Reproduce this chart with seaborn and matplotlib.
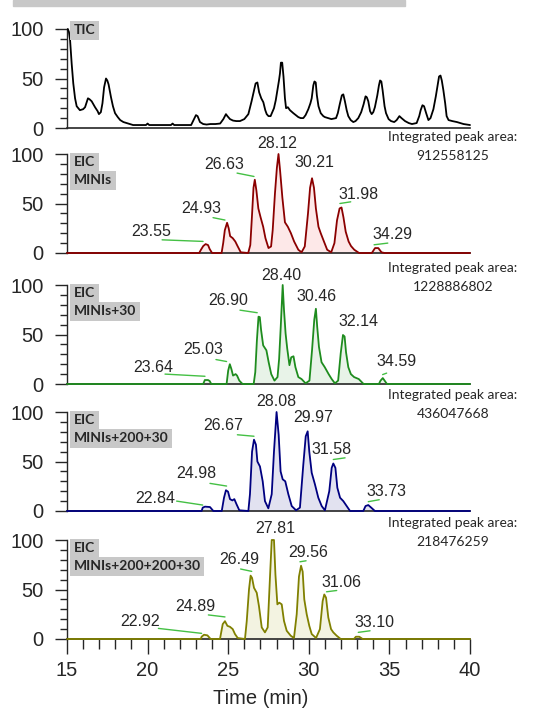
import matplotlib
matplotlib.use("Agg")
import matplotlib.pyplot as plt
from matplotlib.patches import Rectangle
from matplotlib.ticker import MultipleLocator
import numpy as np
import pandas as pd
import seaborn as sns

# ---- data (time in min, relative intensity %) ----
tic_t = [15.05, 15.12, 15.19, 15.29, 15.39, 15.5, 15.6, 15.8, 16.0, 16.12, 16.3, 16.4, 16.53,
         16.74, 16.9, 16.98, 17.1, 17.2, 17.3, 17.42, 17.5, 17.58, 17.73, 17.85, 17.98, 18.15,
         18.3, 18.5, 18.7, 18.9, 19.1, 19.9, 20.0, 20.1, 21.45, 21.55, 21.65, 22.7, 22.85, 23.0,
         23.1, 23.25, 23.45, 23.66, 23.9, 24.2, 24.5, 24.7, 24.86, 24.95, 25.11, 25.3, 25.5,
         25.73, 26.0, 26.25, 26.45, 26.56, 26.7, 26.81, 26.92, 27.05, 27.18, 27.3, 27.39, 27.5,
         27.63, 27.84, 27.95, 28.05, 28.15, 28.21, 28.27, 28.35, 28.43, 28.52, 28.59, 28.7,
         28.83, 29.04, 29.2, 29.35, 29.5, 29.66, 29.8, 29.97, 30.1, 30.18, 30.28, 30.35, 30.43,
         30.5, 30.6, 30.74, 30.9, 31.0, 31.2, 31.4, 31.69, 31.8, 31.92, 32.05, 32.14, 32.24,
         32.35, 32.45, 32.6, 32.76, 32.9, 33.07, 33.25, 33.4, 33.52, 33.6, 33.69, 33.8, 33.9,
         34.0, 34.1, 34.25, 34.35, 34.42, 34.5, 34.58, 34.7, 34.79, 34.95, 35.1, 35.3, 35.45,
         35.62, 35.75, 35.97, 36.2, 36.4, 36.69, 36.85, 36.94, 37.05, 37.15, 37.28, 37.42,
         37.55, 37.73, 37.88, 37.98, 38.08, 38.17, 38.25, 38.35, 38.46, 38.55, 38.67, 38.9,
         39.19, 39.6, 40.0]
tic_i = [100, 97, 89, 65, 45, 30, 22, 18, 19, 21, 30, 29, 27,
         21, 17, 14, 16, 25, 41, 50, 48, 44, 31, 22, 15, 11,
         8, 6, 5, 4, 3, 3, 4.5, 3, 3, 4.5, 3, 3, 8, 13,
         12, 6, 4, 3.5, 4, 4, 4.5, 9, 14, 12, 9, 7.5, 7,
         7, 9, 14, 27, 35, 45, 46, 36, 30, 26, 18, 14, 12,
         12, 20, 28, 38, 48, 55, 66, 66, 52, 30, 20, 21,
         18, 15, 13, 11, 10, 10, 13, 19, 25, 30, 43, 47, 46,
         33, 22, 15, 12, 11, 10, 9, 10, 15, 24, 33, 34, 27,
         18, 12, 8, 6, 7, 10, 16, 24, 32, 31, 27, 17, 14,
         16, 21, 33, 43, 48, 47, 38, 22, 15, 9, 7, 6, 8,
         12, 10, 7, 5, 4, 5, 12, 18, 23, 22, 15, 8,
         10, 19, 32, 42, 52, 53, 48, 38, 25, 12, 8, 7,
         6, 4, 3]

minis_t = [15.0, 23.2, 23.3, 23.45, 23.6, 23.75, 23.85, 24.0, 24.59, 24.69, 24.79, 24.93, 25.03,
           25.12, 25.28, 25.44, 25.58, 25.78, 26.24, 26.37, 26.47, 26.57, 26.65, 26.75, 26.87,
           27.01, 27.17, 27.31, 27.5, 27.66, 27.76, 27.9, 28.02, 28.12, 28.22, 28.36, 28.52,
           28.7, 28.89, 29.09, 29.35, 29.55, 29.75, 29.95, 30.08, 30.2, 30.32, 30.44, 30.6,
           30.74, 30.94, 31.14, 31.39, 31.59, 31.75, 31.91, 32.03, 32.15, 32.29, 32.47, 32.62,
           32.82, 33.12, 33.91, 34.11, 34.31, 34.51, 34.7, 40.0]
minis_i = [0, 0, 3, 7, 9, 8, 4, 0, 0, 10, 23, 30.5, 25,
           17, 15, 11.6, 7, 0.7, 0, 8, 36, 66, 74, 63, 45,
           36, 26.5, 15, 5, 6.6, 23, 60, 86, 100, 83, 56, 31,
           26.5, 20, 11.6, 3.3, 0.7, 6.6, 40, 66, 75.5, 66, 45, 26.5,
           20, 11.6, 3.3, 0.7, 10, 33, 45, 46, 36, 21.5, 11.6, 7,
           3.3, 0, 0, 5, 5, 0.7, 0, 0]

minis30_t = [15.0, 23.45, 23.55, 23.75, 23.85, 23.95, 24.9, 25.0, 25.1, 25.2, 25.3, 25.46, 25.55,
             25.69, 25.89, 26.58, 26.68, 26.78, 26.88, 26.96, 27.04, 27.17, 27.37, 27.51, 27.67,
             27.87, 28.06, 28.16, 28.26, 28.38, 28.46, 28.56, 28.66, 28.8, 28.91, 29.05, 29.17,
             29.35, 29.55, 29.8, 30.04, 30.2, 30.34, 30.44, 30.52, 30.63, 30.79, 30.99, 31.23,
             31.42, 31.62, 31.82, 31.98, 32.12, 32.22, 32.31, 32.45, 32.61, 32.81, 33.1, 33.4,
             34.35, 34.45, 34.59, 34.72, 34.85, 40.0]
minis30_i = [0, 0, 4, 4, 3, 0, 0, 13.6, 20, 15, 8.5, 10, 8.5,
             3.4, 0, 0, 12, 44, 68, 67.5, 54.6, 39, 34, 22, 10,
             3.4, 7, 25.6, 58, 100, 75, 51, 36, 19, 27, 28, 17,
             7, 5, 0.7, 3.4, 34, 65, 76, 58, 37.5, 22, 17, 10,
             5, 0.7, 3.4, 31, 49.5, 48, 32, 17, 10, 7, 5, 0,
             0, 3.4, 6, 3, 0, 0]

minis200_t = [15.0, 23.35, 23.42, 23.56, 23.87, 24.08, 24.6, 24.74, 24.86, 24.99, 25.11, 25.26,
              25.38, 25.52, 25.69, 26.25, 26.35, 26.48, 26.6, 26.72, 26.81, 26.97, 27.14, 27.28,
              27.49, 27.7, 27.84, 28.0, 28.13, 28.25, 28.38, 28.54, 28.73, 28.94, 29.21, 29.45,
              29.66, 29.81, 29.93, 30.03, 30.18, 30.38, 30.59, 30.8, 31.0, 31.27, 31.42, 31.52,
              31.65, 31.77, 31.94, 32.14, 32.35, 32.56, 33.38, 33.52, 33.69, 33.9, 34.1, 40.0]
minis200_i = [0, 0, 3.4, 4.4, 4, 0, 0, 13.4, 21, 19.5, 12, 10.7,
              12, 6.7, 0.7, 0, 17, 60, 72, 67, 50, 45, 30, 10,
              2.7, 17, 60, 100, 77, 40, 32, 30, 17, 5, 0.7, 3.4,
              47, 75.5, 80.5, 60, 38.6, 27, 13.4, 5, 0.7, 20, 43.6, 48,
              43.6, 23.5, 13.4, 10, 5, 0, 0, 5, 6, 3, 0, 0]

minis400_t = [15.0, 23.3, 23.35, 23.5, 23.71, 23.91, 24.49, 24.66, 24.8, 24.95, 25.11, 25.28,
              25.42, 25.59, 26.04, 26.15, 26.29, 26.39, 26.48, 26.6, 26.77, 26.91, 27.08, 27.28,
              27.45, 27.59, 27.7, 27.84, 27.93, 28.05, 28.17, 28.32, 28.46, 28.63, 28.88, 29.08,
              29.25, 29.39, 29.52, 29.62, 29.72, 29.87, 30.03, 30.18, 30.45, 30.69, 30.86, 30.96,
              31.07, 31.21, 31.38, 31.52, 31.73, 31.98, 32.8, 32.92, 33.13, 33.34, 40.0]
minis400_i = [0, 0, 2.3, 4.3, 3.7, 0, 0, 15, 18, 13.3, 12.3, 10,
              5, 1, 0, 18, 50, 64, 61.7, 51.7, 46.7, 33, 11.7, 6.7,
              11.7, 61.7, 100, 100, 65, 35, 36.7, 35, 18.3, 8.3, 3.3, 1,
              25, 63, 74, 68, 40, 25, 13.3, 5, 1, 10, 38.3, 45,
              41.7, 21.7, 10, 6.7, 3.3, 0, 0, 2.3, 2.3, 0, 0]

panel_names = [["TIC"], ["EIC", "MINIs"], ["EIC", "MINIs+30"],
               ["EIC", "MINIs+200+30"], ["EIC", "MINIs+200+200+30"]]
peak_areas = [None, "912558125", "1228886802", "436047668", "218476259"]
peak_labels = [[],
               ["28.12", "26.63", "30.21", "24.93", "31.98", "23.55", "34.29"],
               ["28.40", "26.90", "30.46", "32.14", "25.03", "23.64", "34.59"],
               ["28.08", "26.67", "29.97", "31.58", "24.98", "22.84", "33.73"],
               ["27.81", "26.49", "29.56", "31.06", "24.89", "22.92", "33.10"]]

# label placement (text x, text y, leader line x0, x1, y0, y1)
label_pos = [[],
             [(28.03, 111, None), (24.74, 89, (25.55, 26.6, 80.7, 77.3)), (30.33, 91, None),
              (23.3, 45, (24.06, 24.8, 35.7, 33.3)), (33.1, 59, (31.93, 32.6, 50, 51.7)),
              (20.2, 22, (20.9, 23.44, 13.3, 11.7)), (35.2, 19, (34.05, 34.9, 8.3, 10))],
             [(28.32, 110, None), (25.0, 84.7, (25.73, 26.8, 74.6, 72)), (30.49, 88, None),
              (33.07, 62.7, None), (23.42, 35, (24.24, 24.9, 24.7, 22.7)),
              (20.36, 17, (21.08, 23.56, 10, 7.8)), (35.45, 22.7, (34.58, 34.83, 9.5, 11))],
             [(27.97, 111, None), (24.7, 86.6, (25.57, 26.6, 77, 75.5)), (30.28, 94, None),
              (31.42, 62, (31.52, 32.25, 52, 53.7)), (23.04, 37.6, (23.87, 24.9, 27.9, 25.2)),
              (20.46, 12.4, (21.8, 23.42, 10, 6)), (34.83, 20, (33.69, 34.37, 9.4, 11.4))],
             [(27.9, 111.7, None), (25.69, 80, (25.77, 26.46, 70.7, 68.3)),
              (29.97, 87.7, (29.45, 29.83, 78, 79)), (32.04, 56.7, (31.1, 31.73, 47.7, 49)),
              (22.94, 33, (23.77, 24.8, 24.3, 22.3)), (19.53, 17.7, (20.67, 23.35, 10.7, 5.7)),
              (34.1, 16.7, (33.07, 33.8, 6.7, 8.3))]]

traces = [(tic_t, tic_i), (minis_t, minis_i), (minis30_t, minis30_i),
          (minis200_t, minis200_i), (minis400_t, minis400_i)]
line_colors = ["black", "#8b0000", "#1e8c1e", "#000080", "#808000"]
fill_colors = [None, "#fde8e8", "#e8f3e8", "#e2e2f0", "#f3f3e1"]
leader_color = "#44c044"

sns.set_style("ticks")
plt.rcParams['font.family'] = ['Liberation Sans', 'DejaVu Sans']

fig = plt.figure(figsize=(5.42, 7.09), dpi=100)
W, H = 542, 709
tops = [29, 154, 285, 412, 540]
x_left, x_right = 67, 470

for k in range(5):
    top = tops[k]
    ax = fig.add_axes([x_left / W, 1 - (top + 99) / H, (x_right - x_left) / W, 99 / H])
    t, inten = traces[k]
    df = pd.DataFrame({"time": t, "intensity": inten})
    if fill_colors[k] is not None:
        ax.fill_between(df["time"], 0, df["intensity"], color=fill_colors[k], lw=0, zorder=1)
    sns.lineplot(data=df, x="time", y="intensity", ax=ax, color=line_colors[k], lw=1.3,
                 sort=False, estimator=None, zorder=3)
    for line in ax.lines:
        line.set_clip_on(False)

    ax.set_xlim(15, 40)
    ax.set_ylim(0, 100)
    ax.set_xlabel("")
    ax.set_ylabel("")
    sns.despine(ax=ax)
    ax.spines['left'].set_bounds(0, 100)
    ax.spines['bottom'].set_linewidth(1.2)
    ax.spines['left'].set_linewidth(1.0)
    ax.set_yticks([0, 50, 100])
    ax.yaxis.set_minor_locator(MultipleLocator(10))
    ax.tick_params(axis='y', which='major', length=9, width=1, pad=8, labelsize=14.5)
    ax.tick_params(axis='y', which='minor', length=5, width=1)

    if k < 4:
        ax.tick_params(axis='x', which='both', bottom=False, labelbottom=False)
    else:
        ax.set_xticks(np.arange(15, 41, 5))
        ax.xaxis.set_minor_locator(MultipleLocator(1))
        ax.tick_params(axis='x', which='major', length=11, width=1, pad=5, labelsize=14.5)
        ax.tick_params(axis='x', which='minor', length=7, width=1)

    # grey highlighted panel name
    ys = [0.985] if k == 0 else [0.915, 0.735]
    for name, yy in zip(panel_names[k], ys):
        ax.text(0.017, yy, name, transform=ax.transAxes, ha='left', va='center',
                fontsize=10, fontweight='bold', family=['Lato', 'DejaVu Sans'],
                bbox=dict(facecolor='#c8c8c8', edgecolor='none', boxstyle='square,pad=0.25'),
                zorder=5)

    # peak retention time labels with leader lines
    for lab, (tx, ty, ld) in zip(peak_labels[k], label_pos[k]):
        ax.text(tx, ty, lab, ha='center', va='center', fontsize=11.5, clip_on=False, zorder=6)
        if ld is not None:
            ax.plot([ld[0], ld[1]], [ld[2], ld[3]], color=leader_color, lw=1, clip_on=False,
                    zorder=4)

    if peak_areas[k] is not None:
        ax.text(38.95, 117, "Integrated peak area:", ha='center', va='center', fontsize=10,
                family=['Lato', 'DejaVu Sans'], clip_on=False)
        ax.text(38.95, 98, peak_areas[k], ha='center', va='center', fontsize=10,
                family=['Lato', 'DejaVu Sans'], clip_on=False)

fig.text(261 / W, 1 - 699 / H, "Time (min)", ha='center', va='center', fontsize=14.5)
fig.patches.append(Rectangle((13 / W, 1 - 6 / H), (405 - 13) / W, 6 / H,
                             transform=fig.transFigure, color='#c8c8c8', zorder=0))

fig.savefig("out.png", dpi=100)
